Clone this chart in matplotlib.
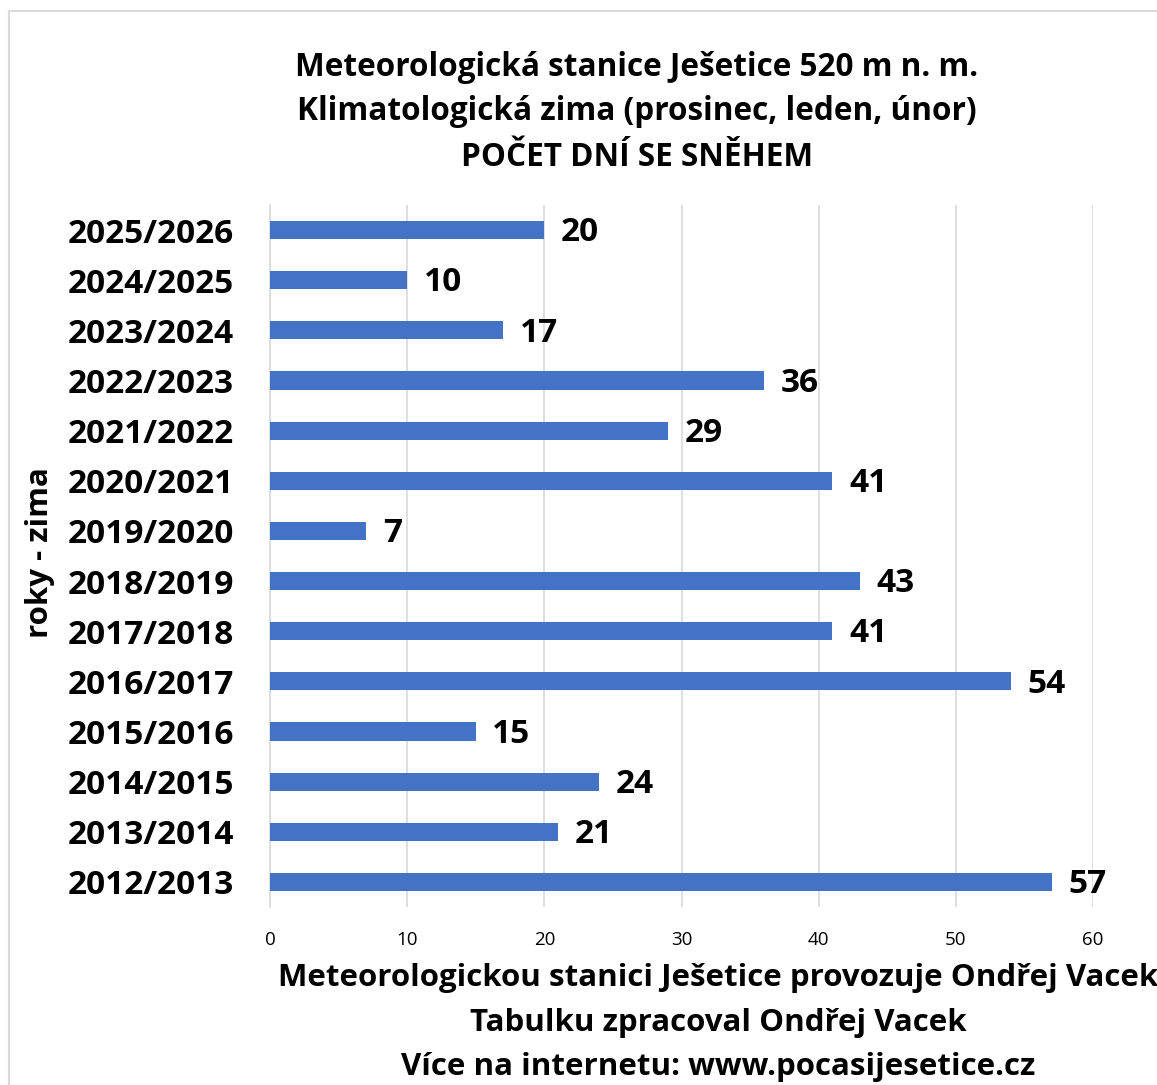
import matplotlib
matplotlib.use("Agg")
import matplotlib.pyplot as plt
from matplotlib.patches import Rectangle

plt.rcParams['font.family'] = ['Open Sans', 'DejaVu Sans']

winters = ["2012/2013", "2013/2014", "2014/2015", "2015/2016", "2016/2017",
           "2017/2018", "2018/2019", "2019/2020", "2020/2021", "2021/2022",
           "2022/2023", "2023/2024", "2024/2025", "2025/2026"]
snow_days = [57, 21, 24, 15, 54, 41, 43, 7, 41, 29, 36, 17, 10, 20]
xticks = [0, 10, 20, 30, 40, 50, 60]

W, H = 1157, 1085
fig = plt.figure(figsize=(W / 100, H / 100), dpi=100)
fig.patch.set_facecolor("white")

# outer frame
fig.add_artist(Rectangle((9 / W, -0.05), 1.2, 1 - 11 / H + 0.05,
                         transform=fig.transFigure, fill=False,
                         edgecolor="#d9d9d9", linewidth=1.5))

ax = fig.add_axes([270 / W, 1 - 907 / H, (1093 - 270) / W, (907 - 205) / H])
pos = list(range(len(winters)))
ax.barh(pos, snow_days, height=0.36, color="#4472C4", zorder=3)
ax.set_ylim(-0.5, len(winters) - 0.5)
ax.set_xlim(0, 60)
ax.set_xticks(xticks)
ax.set_xticklabels([str(t) for t in xticks], fontsize=13.5)
ax.set_yticks(pos)
ax.set_yticklabels(winters, fontsize=24, fontweight="bold")
for lbl in ax.get_yticklabels():
    lbl.set_y(lbl.get_position()[1])
ax.tick_params(axis="both", length=0)
ax.tick_params(axis="x", pad=17)
ax.tick_params(axis="y", pad=26)
for s in ["top", "right", "bottom"]:
    ax.spines[s].set_visible(False)
ax.spines["left"].set_color("#d9d9d9")
ax.spines["left"].set_linewidth(1.2)
ax.grid(axis="x", color="#d9d9d9", linewidth=1.2, zorder=0)
ax.set_axisbelow(True)

for p, v in zip(pos, snow_days):
    ax.annotate(str(v), (v, p), xytext=(12, -2), textcoords="offset points",
                va="center", ha="left", fontsize=24, fontweight="bold")

fig.text(40 / W, 1 - 553 / H, "roky - zima", rotation=90, ha="center",
         va="center", fontsize=22.5, fontweight="bold")

title_lines = ["Meteorologická stanice Ješetice 520 m n. m.",
               "Klimatologická zima (prosinec, leden, únor)",
               "POČET DNÍ SE SNĚHEM"]
for i, line in enumerate(title_lines):
    fig.text(637 / W, 1 - (67 + 45 * i) / H, line, ha="center", va="center",
             fontsize=22.7, fontweight="bold")

footer_lines = ["Meteorologickou stanici Ješetice provozuje Ondřej Vacek",
                "Tabulku zpracoval Ondřej Vacek",
                "Více na internetu: www.pocasijesetice.cz"]
for i, line in enumerate(footer_lines):
    fig.text(718 / W, 1 - (978 + 44.5 * i) / H, line, ha="center", va="center",
             fontsize=22.5, fontweight="bold")

fig.savefig("out.png", dpi=100)
